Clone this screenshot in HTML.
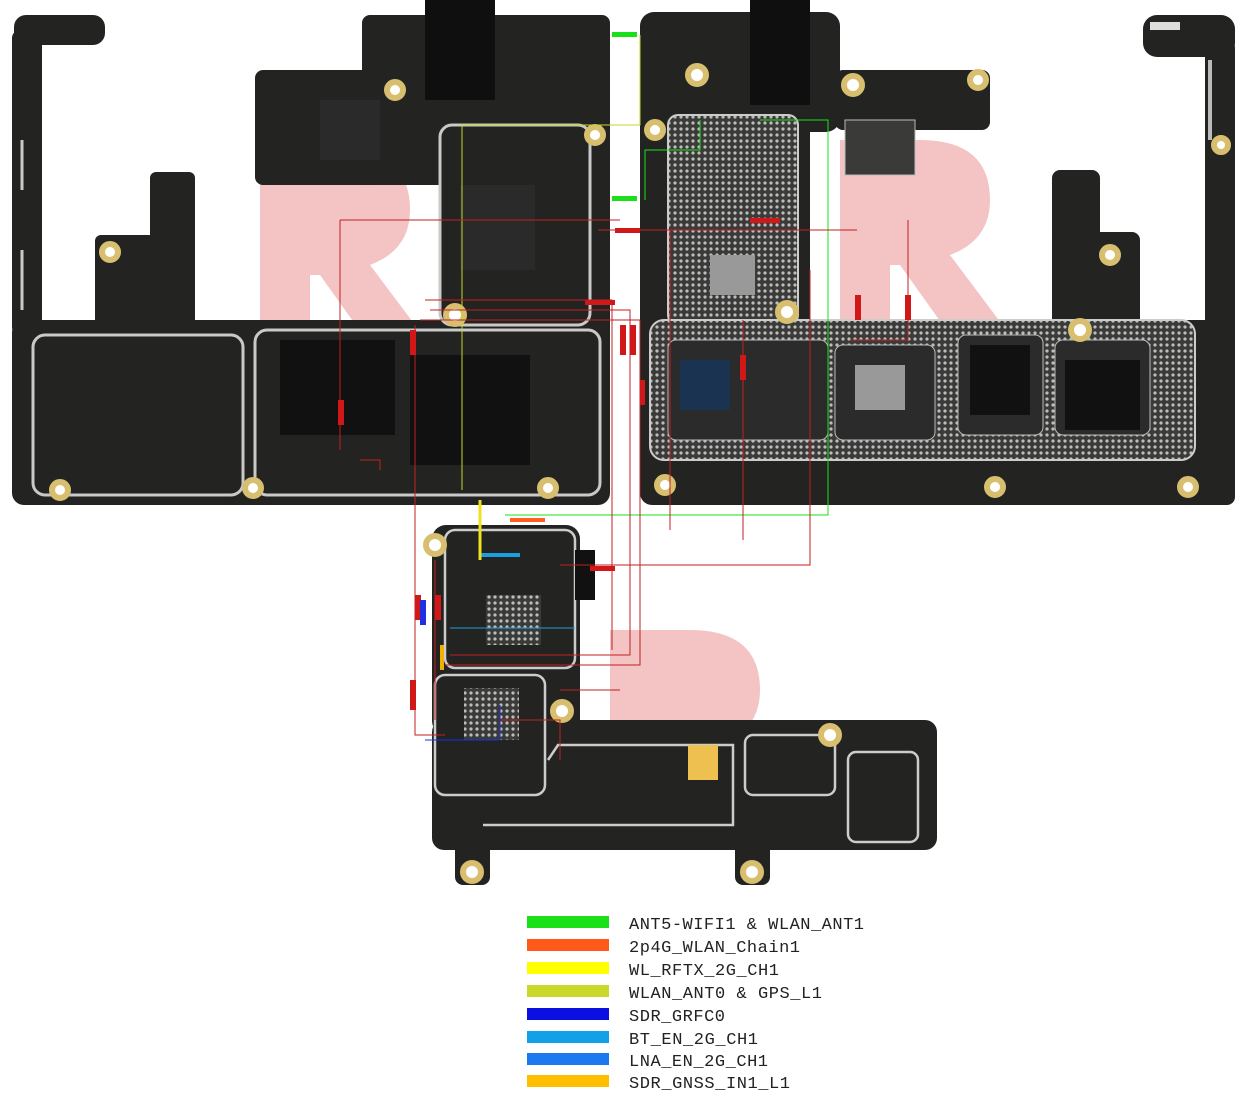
<!DOCTYPE html>
<html><head><meta charset="utf-8"><style>
html,body{margin:0;padding:0;background:#fff;width:1246px;height:1098px;overflow:hidden}
svg{display:block}
.lg{font-family:"Liberation Mono","DejaVu Sans Mono",monospace;font-size:17px;fill:#222}
</style></head><body>
<svg width="1246" height="1098" viewBox="0 0 1246 1098" xmlns="http://www.w3.org/2000/svg">
<defs>
<pattern id="dots" width="6" height="6" patternUnits="userSpaceOnUse"><rect width="6" height="6" fill="#3a3a38"/><circle cx="3" cy="3" r="1.6" fill="#bdbdbd"/></pattern>
</defs>
<g fill="#f2b8b8" opacity="0.85">
<path d="M260 150 h80 q70 0 70 60 q0 40 -40 55 l60 80 h-60 l-50 -70 h-10 v70 h-50z"/>
<path d="M840 140 h80 q70 0 70 60 q0 40 -40 55 l60 80 h-60 l-50 -70 h-10 v70 h-50z"/>
<path d="M610 630 h80 q70 0 70 60 q0 40 -40 55 l50 60 h-60 l-40 -60 h-10 v60 h-50z"/>
</g>
<!-- LEFT BOARD -->
<g fill="#232321">
<rect x="12" y="30" width="30" height="305" rx="8"/>
<rect x="14" y="15" width="91" height="30" rx="12"/>
<rect x="150" y="172" width="45" height="160" rx="6"/>
<rect x="95" y="235" width="60" height="97" rx="6"/>
<rect x="255" y="70" width="190" height="115" rx="8"/>
<rect x="362" y="15" width="248" height="170" rx="8"/>
<rect x="440" y="120" width="170" height="215"/>
<rect x="12" y="320" width="598" height="185" rx="12"/>
</g>
<g fill="none" stroke="#c9c9c9" stroke-width="3">
<rect x="33" y="335" width="210" height="160" rx="12"/>
<rect x="255" y="330" width="345" height="165" rx="12"/>
<rect x="440" y="125" width="150" height="200" rx="12"/>
<path d="M22 140 v50 M22 250 v60"/>
</g>
<rect x="280" y="340" width="115" height="95" fill="#111"/>
<rect x="410" y="355" width="120" height="110" fill="#111"/>
<rect x="460" y="185" width="75" height="85" fill="#2a2a2a"/>
<rect x="425" y="0" width="70" height="100" fill="#0f0f0f"/>
<rect x="320" y="100" width="60" height="60" fill="#2a2a2a"/>
<!-- RIGHT BOARD -->
<g fill="#232321">
<rect x="640" y="12" width="200" height="120" rx="14"/>
<rect x="835" y="70" width="155" height="60" rx="8"/>
<rect x="640" y="120" width="170" height="215"/>
<rect x="1052" y="170" width="48" height="160" rx="8"/>
<rect x="1052" y="232" width="88" height="98" rx="8"/>
<rect x="1143" y="15" width="92" height="42" rx="14"/>
<rect x="1205" y="40" width="30" height="465" rx="8"/>
<rect x="640" y="320" width="595" height="185" rx="12"/>
</g>
<rect x="1150" y="22" width="30" height="8" fill="#ddd"/>
<rect x="668" y="115" width="130" height="210" rx="10" fill="url(#dots)" stroke="#ccc" stroke-width="2"/>
<rect x="650" y="320" width="545" height="140" rx="14" fill="url(#dots)" stroke="#ccc" stroke-width="2"/>
<rect x="668" y="340" width="160" height="100" rx="8" fill="#2b2b2b" stroke="#bbb"/>
<rect x="835" y="345" width="100" height="95" rx="8" fill="#2b2b2b" stroke="#bbb"/>
<rect x="958" y="335" width="85" height="100" rx="8" fill="#2b2b2b" stroke="#bbb"/>
<rect x="1055" y="340" width="95" height="95" rx="8" fill="#2b2b2b" stroke="#bbb"/>
<rect x="970" y="345" width="60" height="70" fill="#111"/><rect x="1065" y="360" width="75" height="70" fill="#111"/>
<rect x="680" y="360" width="50" height="50" fill="#1a3350"/>
<rect x="855" y="365" width="50" height="45" fill="#999"/>
<rect x="710" y="255" width="45" height="40" fill="#999"/>
<rect x="750" y="0" width="60" height="105" fill="#0f0f0f"/>
<rect x="845" y="120" width="70" height="55" fill="#3a3a38" stroke="#bbb"/>
<path d="M1210 60 v80" stroke="#bbb" stroke-width="4"/>
<!-- BOTTOM BOARD -->
<g fill="#232321">
<rect x="432" y="525" width="148" height="210" rx="14"/>
<rect x="432" y="720" width="505" height="130" rx="12"/>
<rect x="455" y="840" width="35" height="45" rx="8"/>
<rect x="735" y="840" width="35" height="45" rx="8"/>
</g>
<g fill="none" stroke="#ccc" stroke-width="2.5">
<rect x="445" y="530" width="130" height="138" rx="10"/>
<rect x="435" y="675" width="110" height="120" rx="10"/>
<path d="M548 760 l10 -15 h175 v80 h-250"/>
<rect x="745" y="735" width="90" height="60" rx="8"/>
<rect x="848" y="752" width="70" height="90" rx="8"/>
</g>
<rect x="486" y="595" width="55" height="50" fill="url(#dots)"/>
<rect x="464" y="688" width="55" height="52" fill="url(#dots)"/>
<rect x="575" y="550" width="20" height="50" fill="#111"/>
<rect x="688" y="745" width="30" height="35" fill="#eec050"/>
<g fill="#fff" stroke="#d8bf70" stroke-width="6">
<circle cx="110" cy="252" r="8"/><circle cx="395" cy="90" r="8"/><circle cx="455" cy="315" r="9"/>
<circle cx="595" cy="135" r="8"/><circle cx="60" cy="490" r="8"/><circle cx="253" cy="488" r="8"/><circle cx="548" cy="488" r="8"/>
<circle cx="697" cy="75" r="9"/><circle cx="853" cy="85" r="9"/><circle cx="978" cy="80" r="8"/><circle cx="655" cy="130" r="8"/>
<circle cx="787" cy="312" r="9"/><circle cx="1080" cy="330" r="9"/><circle cx="1110" cy="255" r="8"/>
<circle cx="665" cy="485" r="8"/><circle cx="995" cy="487" r="8"/><circle cx="1188" cy="487" r="8"/><circle cx="1221" cy="145" r="7"/>
<circle cx="435" cy="545" r="9"/><circle cx="562" cy="711" r="9"/><circle cx="830" cy="735" r="9"/><circle cx="472" cy="872" r="9"/><circle cx="752" cy="872" r="9"/>
</g>
<g fill="none" stroke-width="1">
<path d="M462 490 V125 H640 V35" stroke="#c7d62a"/>
<path d="M505 515 H828 V120 H760" stroke="#19e019"/>
<path d="M645 200 V150 H700 V120" stroke="#19e019"/>
<g stroke="#c02020">
<path d="M340 220 H620 M340 220 V450"/>
<path d="M415 325 V735 H445"/>
<path d="M420 320 H640 V665 H445"/>
<path d="M425 300 H612 V650"/>
<path d="M430 310 H630 V655 H450"/>
<path d="M598 230 H670 V530 M670 230 H857"/>
<path d="M810 270 V565 H560"/>
<path d="M743 320 V540"/>
<path d="M908 220 V340 H850"/>
<path d="M360 460 H380 V470"/>
<path d="M435 560 V720"/>
<path d="M500 720 H560 V760"/>
<path d="M620 690 H560"/>
</g>
<path d="M425 740 H500 V705" stroke="#1a2fe0"/>
<path d="M450 628 H575" stroke="#1aa0e0"/>
<path d="M480 555 H520" stroke="#1aa0e0" stroke-width="4"/>
<path d="M480 500 V560" stroke="#f0e020" stroke-width="3"/>
<path d="M442 645 V670" stroke="#f0b000" stroke-width="4"/>
<path d="M510 520 H545" stroke="#ff6020" stroke-width="4"/>
</g>
<g fill="#d01818">
<rect x="338" y="400" width="6" height="25"/><rect x="410" y="330" width="6" height="25"/><rect x="620" y="325" width="6" height="30"/>
<rect x="630" y="325" width="6" height="30"/><rect x="640" y="380" width="5" height="25"/><rect x="855" y="295" width="6" height="25"/>
<rect x="905" y="295" width="6" height="25"/><rect x="740" y="355" width="6" height="25"/><rect x="410" y="680" width="6" height="30"/>
<rect x="415" y="595" width="6" height="25"/><rect x="435" y="595" width="6" height="25"/><rect x="585" y="300" width="30" height="5"/>
<rect x="615" y="228" width="25" height="5"/><rect x="750" y="218" width="30" height="5"/><rect x="590" y="566" width="25" height="5"/>
</g>
<rect x="420" y="600" width="6" height="25" fill="#2030e0"/>
<rect x="612" y="32" width="25" height="5" fill="#19e019"/><rect x="612" y="196" width="25" height="5" fill="#19e019"/>
<rect x="527" y="916" width="82" height="12" fill="#19e019"/>
<rect x="527" y="939" width="82" height="12" fill="#ff5a1a"/>
<rect x="527" y="962" width="82" height="12" fill="#ffff00"/>
<rect x="527" y="985" width="82" height="12" fill="#c9d82a"/>
<rect x="527" y="1008" width="82" height="12" fill="#0a10e0"/>
<rect x="527" y="1031" width="82" height="12" fill="#12a0e8"/>
<rect x="527" y="1053" width="82" height="12" fill="#1a78f0"/>
<rect x="527" y="1075" width="82" height="12" fill="#ffbe00"/>
<text class="lg" x="629" y="929" textLength="235">ANT5-WIFI1 &amp; WLAN_ANT1</text>
<text class="lg" x="629" y="952" textLength="171">2p4G_WLAN_Chain1</text>
<text class="lg" x="629" y="975" textLength="150">WL_RFTX_2G_CH1</text>
<text class="lg" x="629" y="998" textLength="193">WLAN_ANT0 &amp; GPS_L1</text>
<text class="lg" x="629" y="1021" textLength="96">SDR_GRFC0</text>
<text class="lg" x="629" y="1044" textLength="129">BT_EN_2G_CH1</text>
<text class="lg" x="629" y="1066" textLength="139">LNA_EN_2G_CH1</text>
<text class="lg" x="629" y="1088" textLength="161">SDR_GNSS_IN1_L1</text>
</svg>
</body></html>
